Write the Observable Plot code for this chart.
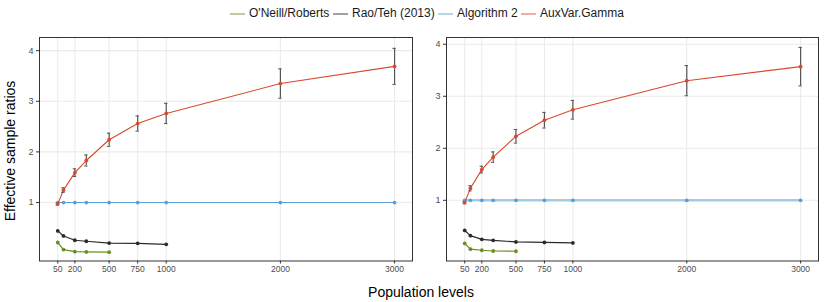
<!DOCTYPE html>
<html><head><meta charset="utf-8">
<script src="https://cdn.jsdelivr.net/npm/d3@7"></script>
<script src="https://cdn.jsdelivr.net/npm/@observablehq/plot@0.6"></script>
<style>
body{margin:0;background:#fff;font-family:"Liberation Sans",Arial,sans-serif;}
#wrap{position:relative;width:830px;height:302px;overflow:hidden;background:#fff}
#wrap svg{position:absolute;top:0}
</style></head><body><div id="wrap"></div>
<script>
// ---- data ----
const populations = [50,100,200,300,500,750,1000,2000,3000];
const xTicks = [50,200,500,750,1000,2000,3000];
const yTicks = [1,2,3,4];
const seriesNames = ["O'Neill/Roberts","Rao/Teh (2013)","Algorithm 2","AuxVar.Gamma"];
const seriesColors = ["#6b8e23","#2a2a2a","#5d9fd4","#d9492e"];

// left panel
const leftOneill = [0.21,0.07,0.03,0.025,0.02];             // pops 50..500
const leftRaoTeh = [0.44,0.34,0.255,0.235,0.20,0.195,0.175]; // pops 50..1000
const leftAlg2   = [1,1,1,1,1,1,1,1,1];
const leftAux    = [0.97,1.245,1.59,1.83,2.24,2.56,2.76,3.35,3.69];
const leftAuxErr = [0.02,0.045,0.075,0.11,0.13,0.15,0.2,0.29,0.356];

// right panel
const rightOneill = [0.17,0.06,0.04,0.025,0.02];
const rightRaoTeh = [0.42,0.32,0.25,0.23,0.20,0.19,0.18];
const rightAlg2   = [1,1,1,1,1,1,1,1,1];
const rightAux    = [0.955,1.23,1.59,1.83,2.23,2.54,2.74,3.30,3.57];
const rightAuxErr = [0.02,0.05,0.065,0.1,0.13,0.15,0.18,0.29,0.37];

const rows = vals => vals.map((v,i)=>({pop:populations[i], value:v}));
const errRows = (vals, errs) => vals.map((v,i)=>({pop:populations[i], value:v, lo:v-errs[i], hi:v+errs[i]}));
const fmt = d => String(d);

function panel(cfg){
  const W = 415, H = 280;
  const xDomain = [-110, 3157];
  const innerW = W - cfg.ml - cfg.mr;
  const cap = 1.7 * (xDomain[1]-xDomain[0]) / innerW;
  const aux = errRows(cfg.aux, cfg.err);
  return Plot.plot({
    width: W, height: H,
    marginLeft: cfg.ml, marginRight: cfg.mr, marginTop: 37, marginBottom: 19.5,
    x: {domain: xDomain},
    y: {domain: cfg.yDomain},
    style: {fontFamily: '"Liberation Sans", Arial, sans-serif', color: "#4d4d4d", background: "#fff", overflow: "visible"},
    marks: [
      Plot.gridX(xTicks, {stroke: "#ebebeb", strokeOpacity: 1, strokeWidth: 1.1}),
      Plot.gridY(yTicks, {stroke: "#ebebeb", strokeOpacity: 1, strokeWidth: 1.1}),
      Plot.axisX(xTicks, {tickSize: 3, tickPadding: 2, fontSize: 8.5, label: null, stroke: "#333", tickFormat: fmt}),
      Plot.axisY(yTicks, {tickSize: 3, tickPadding: 3, fontSize: 9, label: null, stroke: "#333", tickFormat: fmt}),
      Plot.line(rows(cfg.alg2), {x: "pop", y: "value", stroke: cfg.alg2Color, strokeWidth: cfg.alg2Width, strokeOpacity: cfg.alg2Opacity}),
      Plot.dot(rows(cfg.alg2), {x: "pop", y: "value", fill: seriesColors[2], r: 1.9}),
      Plot.line(rows(cfg.raoteh), {x: "pop", y: "value", stroke: seriesColors[1], strokeWidth: 1.2}),
      Plot.dot(rows(cfg.raoteh), {x: "pop", y: "value", fill: seriesColors[1], r: 1.9}),
      Plot.line(rows(cfg.oneill), {x: "pop", y: "value", stroke: seriesColors[0], strokeWidth: 1.2}),
      Plot.dot(rows(cfg.oneill), {x: "pop", y: "value", fill: seriesColors[0], r: 1.9}),
      Plot.line(aux, {x: "pop", y: "value", stroke: seriesColors[3], strokeWidth: 1.1}),
      Plot.ruleX(aux, {x: "pop", y1: "lo", y2: "hi", stroke: "#555", strokeWidth: 1.2}),
      Plot.ruleY(aux, {y: "lo", x1: d=>d.pop-cap, x2: d=>d.pop+cap, stroke: "#555", strokeWidth: 1}),
      Plot.ruleY(aux, {y: "hi", x1: d=>d.pop-cap, x2: d=>d.pop+cap, stroke: "#555", strokeWidth: 1}),
      Plot.dot(aux, {x: "pop", y: "value", fill: seriesColors[3], r: 1.9}),
      Plot.frame({stroke: "#333", strokeWidth: 1})
    ]
  });
}

const wrap = document.getElementById("wrap");
const p1 = panel({ml: 39, mr: 3, yDomain: [-0.155, 4.26], oneill: leftOneill, raoteh: leftRaoTeh, alg2: leftAlg2, aux: leftAux, err: leftAuxErr,
  alg2Color: seriesColors[2], alg2Width: 1.1, alg2Opacity: 1});
p1.style.left = "0px";
const p2 = panel({ml: 31, mr: 12, yDomain: [-0.167, 4.13], oneill: rightOneill, raoteh: rightRaoTeh, alg2: rightAlg2, aux: rightAux, err: rightAuxErr,
  alg2Color: "#8fc0de", alg2Width: 2.6, alg2Opacity: 0.8});
p2.style.left = "415px";
wrap.appendChild(p1);
wrap.appendChild(p2);

// titles + legend overlay
const ov = d3.select(wrap).append("svg").attr("width", 830).attr("height", 302)
  .style("left","0px").style("font-family",'"Liberation Sans", Arial, sans-serif');
ov.append("text").attr("transform","translate(11,151) rotate(-90)").attr("text-anchor","middle")
  .attr("dominant-baseline","middle").attr("font-size",14).attr("fill","#000").text("Effective sample ratios");
ov.append("text").attr("x",421).attr("y",293).attr("text-anchor","middle")
  .attr("dominant-baseline","middle").attr("font-size",14).attr("fill","#000").text("Population levels");
const legendX = [230, 333, 438, 521];
seriesNames.forEach((name,i)=>{
  const g = ov.append("g").attr("transform",`translate(${legendX[i]},14)`);
  g.append("line").attr("x1",0).attr("x2",15).attr("y1",0).attr("y2",0)
    .attr("stroke",seriesColors[i]).attr("stroke-opacity",0.55).attr("stroke-width",1.6);
  g.append("text").attr("x",19).attr("y",0).attr("dominant-baseline","middle")
    .attr("font-size",12).attr("fill","#1a1a1a").text(name);
});
</script></body></html>
